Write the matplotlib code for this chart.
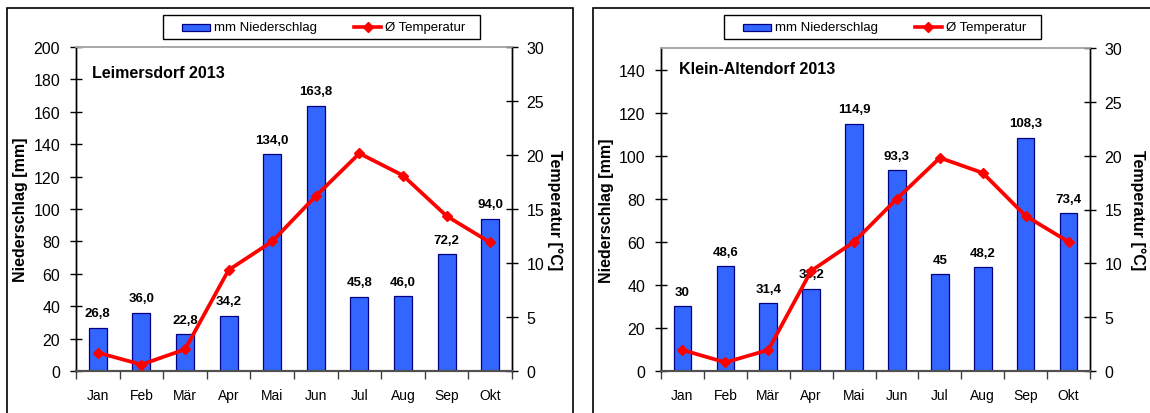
import matplotlib
matplotlib.use("Agg")
import matplotlib.pyplot as plt
from matplotlib.patches import Rectangle
from matplotlib.lines import Line2D
import numpy as np

plt.rcParams['font.family'] = ['Liberation Sans', 'DejaVu Sans']

months = ["Jan", "Feb", "Mär", "Apr", "Mai", "Jun", "Jul", "Aug", "Sep", "Okt"]

# Leimersdorf 2013
rain_lei_text = ["26,8", "36,0", "22,8", "34,2", "134,0", "163,8", "45,8", "46,0", "72,2", "94,0"]
temp_lei = [1.7, 0.6, 2.0, 9.35, 12.0, 16.2, 20.15, 18.1, 14.35, 11.9]

# Klein-Altendorf 2013
rain_ka_text = ["30", "48,6", "31,4", "38,2", "114,9", "93,3", "45", "48,2", "108,3", "73,4"]
temp_ka = [1.95, 0.8, 1.95, 9.3, 12.0, 16.0, 19.8, 18.4, 14.4, 12.0]

BAR_BLUE = "#3366FF"
BAR_EDGE = "#000080"
LINE_RED = "#FF0000"

W, H = 1150, 414
fig = plt.figure(figsize=(W / 100, H / 100), dpi=100)


def fx(px):
    return px / W


def fy(py):
    return 1 - py / H


def legend_box(x0):
    """Two-entry legend in a plain black box, x0 = left edge in pixels."""
    top, bottom = 16, 40
    fig.add_artist(Rectangle((fx(x0), fy(bottom)), fx(317), (bottom - top) / H,
                             transform=fig.transFigure, facecolor="white",
                             edgecolor="black", linewidth=1.0))
    ymid = 28
    fig.add_artist(Rectangle((fx(x0 + 19), fy(ymid + 3.5)), fx(28), 7 / H,
                             transform=fig.transFigure, facecolor=BAR_BLUE,
                             edgecolor=BAR_EDGE, linewidth=0.9))
    fig.text(fx(x0 + 51.5), fy(ymid), "mm Niederschlag", fontsize=9.5,
             ha="left", va="center")
    fig.add_artist(Line2D([fx(x0 + 191), fx(x0 + 218)], [fy(ymid), fy(ymid)],
                          transform=fig.transFigure, color=LINE_RED, lw=2.6))
    fig.add_artist(Line2D([fx(x0 + 204.5)], [fy(ymid)], transform=fig.transFigure,
                          color=LINE_RED, marker="D", markersize=5.5))
    fig.text(fx(x0 + 222), fy(ymid), "Ø Temperatur", fontsize=9.5,
             ha="left", va="center")


def panel(x0, x1, y0, y1, rain_text, temps, ymax, yticks, title, title_xy,
          frame_x, legend_x):
    rain = [float(s.replace(",", ".")) for s in rain_text]
    ax = fig.add_axes([fx(x0), fy(y1), fx(x1 - x0), (y1 - y0) / H])
    ax2 = ax.twinx()
    x = np.arange(len(months))

    ax.bar(x, rain, width=0.41, color=BAR_BLUE, edgecolor=BAR_EDGE,
           linewidth=0.9, zorder=2)
    for xi, v, s in zip(x, rain, rain_text):
        ax.annotate(s, (xi, v), xytext=(0, 6), textcoords="offset points",
                    ha="center", va="bottom", fontsize=9.5, fontweight="bold",
                    zorder=3)
    ax2.plot(x, temps, color=LINE_RED, lw=2.7, marker="D", markersize=5.5,
             zorder=4)

    ax.set_xlim(-0.5, len(months) - 0.5)
    ax.set_ylim(0, ymax)
    ax.set_yticks(yticks)
    ax2.set_ylim(0, 30)
    ax2.set_yticks(np.arange(0, 31, 5))

    # category boundaries carry tick marks, centres carry month names
    ax.set_xticks(np.arange(-0.5, len(months), 1.0))
    ax.set_xticklabels([])
    ax.set_xticks(x, minor=True)
    ax.set_xticklabels(months, minor=True)
    ax.tick_params(axis="x", which="major", direction="out", length=6,
                   width=1, color="#404040")
    ax.tick_params(axis="x", which="minor", length=0, pad=12, labelsize=10)
    ax.tick_params(axis="y", direction="inout", length=9, width=1,
                   pad=7, labelsize=11.5)
    ax2.tick_params(axis="y", direction="inout", length=9, width=1,
                    pad=6, labelsize=11.5)

    for a in (ax, ax2):
        a.spines["top"].set_color("#A8A8A8")
        a.spines["top"].set_linewidth(1.2)
        a.spines["bottom"].set_color("#505050")
        a.spines["bottom"].set_linewidth(1.5)
        a.spines["left"].set_linewidth(1.0)
        a.spines["right"].set_linewidth(1.0)
    ax.set_zorder(ax2.get_zorder() - 1)
    ax2.patch.set_visible(False)

    ax.set_ylabel("Niederschlag [mm]", fontsize=11.5, fontweight="bold",
                  va="center")
    ax.yaxis.set_label_coords((title_xy[2] - x0) / (x1 - x0), 0.5)
    ax2.set_ylabel("Temperatur [°C]", fontsize=11.5, fontweight="bold",
                   rotation=270, va="center")
    ax2.yaxis.set_label_coords((title_xy[3] - x0) / (x1 - x0), 0.5)

    ax.text((title_xy[0] - x0) / (x1 - x0), (y1 - title_xy[1]) / (y1 - y0),
            title, transform=ax.transAxes, fontsize=11.5, fontweight="bold",
            ha="left", va="center")

    # chart frame
    fig.patches.append(Rectangle((fx(frame_x[0]), fy(H + 10)),
                                 fx(frame_x[1] - frame_x[0]), (H + 10 - 9) / H,
                                 transform=fig.transFigure, fill=False,
                                 edgecolor="black", linewidth=1.2))
    legend_box(legend_x)
    return ax, ax2


panel(76, 512, 48, 372, rain_lei_text, temp_lei, 200, np.arange(0, 201, 20),
      "Leimersdorf 2013", (92, 73, 21, 555), (7, 573), 163)
panel(661, 1090, 49, 372, rain_ka_text, temp_ka, 150, np.arange(0, 141, 20),
      "Klein-Altendorf 2013", (679, 69, 607, 1138), (593, 1170), 723.5)

fig.savefig("out.png", dpi=100)
